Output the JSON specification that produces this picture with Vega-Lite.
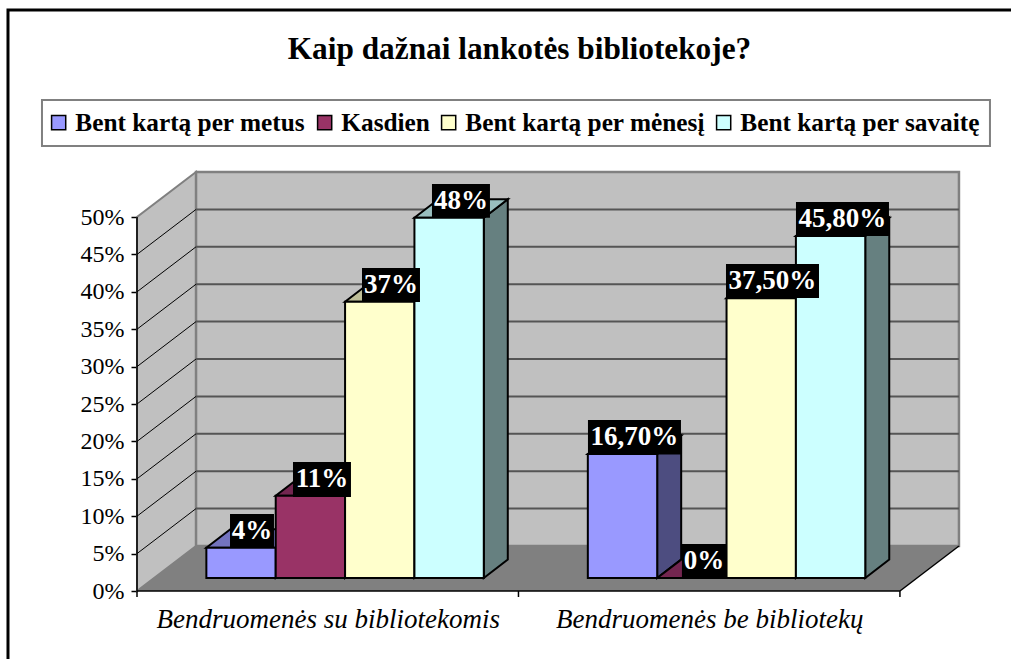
{
"$schema":"https://vega.github.io/schema/vega-lite/v6.json",
"width":823,"height":419,
"autosize":{"type":"none"},
"padding":{"left":137,"top":172,"right":51,"bottom":68},
"background":"white",
"title":{"text":"Kaip dažnai lankotės bibliotekoje?","font":"Liberation Serif","fontWeight":"bold","fontSize":31.3,"color":"black","anchor":"middle","frame":"group","dx":-29,"offset":-57},
"config":{"view":{"stroke":null},"axis":{"labelFont":"Liberation Serif","labelColor":"black"}},
"datasets":{
"bars":[
{"category":"Bendruomenės su bibliotekomis","series":"Bent kartą per metus","value":4,"x":1,"xe":2,"base":1.74,"top":5.79},
{"category":"Bendruomenės su bibliotekomis","series":"Kasdien","value":11,"x":2,"xe":3,"base":1.74,"top":12.74},
{"category":"Bendruomenės su bibliotekomis","series":"Bent kartą per mėnesį","value":37,"x":3,"xe":4,"base":1.74,"top":38.68},
{"category":"Bendruomenės su bibliotekomis","series":"Bent kartą per savaitę","value":48,"x":4,"xe":5,"base":1.74,"top":49.91},
{"category":"Bendruomenės be bibliotekų","series":"Bent kartą per metus","value":16.7,"x":6.5,"xe":7.5,"base":1.74,"top":18.32},
{"category":"Bendruomenės be bibliotekų","series":"Kasdien","value":0,"x":7.5,"xe":8.5,"base":1.74,"top":1.74},
{"category":"Bendruomenės be bibliotekų","series":"Bent kartą per mėnesį","value":37.5,"x":8.5,"xe":9.5,"base":1.74,"top":39.13},
{"category":"Bendruomenės be bibliotekų","series":"Bent kartą per savaitę","value":45.8,"x":9.5,"xe":10.5,"base":1.74,"top":47.46}
],
"sides":[
{"face":"a1","series":"Bent kartą per metus","x":2,"y":1.74,"ye":5.79},{"face":"a1","series":"Bent kartą per metus","x":2.346,"y":4.2,"ye":8.25},
{"face":"a2","series":"Kasdien","x":3,"y":1.74,"ye":12.74},{"face":"a2","series":"Kasdien","x":3.346,"y":4.2,"ye":15.2},
{"face":"a3","series":"Bent kartą per mėnesį","x":4,"y":1.74,"ye":38.68},{"face":"a3","series":"Bent kartą per mėnesį","x":4.346,"y":4.2,"ye":41.14},
{"face":"a4","series":"Bent kartą per savaitę","x":5,"y":1.74,"ye":49.91},{"face":"a4","series":"Bent kartą per savaitę","x":5.346,"y":4.2,"ye":52.37},
{"face":"b1","series":"Bent kartą per metus","x":7.5,"y":1.74,"ye":18.32},{"face":"b1","series":"Bent kartą per metus","x":7.846,"y":4.2,"ye":20.78},
{"face":"b3","series":"Bent kartą per mėnesį","x":9.5,"y":1.74,"ye":39.13},{"face":"b3","series":"Bent kartą per mėnesį","x":9.846,"y":4.2,"ye":41.59},
{"face":"b4","series":"Bent kartą per savaitę","x":10.5,"y":1.74,"ye":47.46},{"face":"b4","series":"Bent kartą per savaitę","x":10.846,"y":4.2,"ye":49.92}
],
"tops":[
{"face":"a1","series":"Bent kartą per metus","y":5.79,"x":1,"xe":2},{"face":"a1","series":"Bent kartą per metus","y":8.25,"x":1.346,"xe":2.346},
{"face":"a2","series":"Kasdien","y":12.74,"x":2,"xe":3},{"face":"a2","series":"Kasdien","y":15.2,"x":2.346,"xe":3.346},
{"face":"a3","series":"Bent kartą per mėnesį","y":38.68,"x":3,"xe":4},{"face":"a3","series":"Bent kartą per mėnesį","y":41.14,"x":3.346,"xe":4.346},
{"face":"a4","series":"Bent kartą per savaitę","y":49.91,"x":4,"xe":5},{"face":"a4","series":"Bent kartą per savaitę","y":52.37,"x":4.346,"xe":5.346},
{"face":"b1","series":"Bent kartą per metus","y":18.32,"x":6.5,"xe":7.5},{"face":"b1","series":"Bent kartą per metus","y":20.78,"x":6.846,"xe":7.846},
{"face":"b2","series":"Kasdien","y":1.74,"x":7.5,"xe":8.5},{"face":"b2","series":"Kasdien","y":4.2,"x":7.846,"xe":8.846},
{"face":"b3","series":"Bent kartą per mėnesį","y":39.13,"x":8.5,"xe":9.5},{"face":"b3","series":"Bent kartą per mėnesį","y":41.59,"x":8.846,"xe":9.846},
{"face":"b4","series":"Bent kartą per savaitę","y":47.46,"x":9.5,"xe":10.5},{"face":"b4","series":"Bent kartą per savaitę","y":49.92,"x":9.846,"xe":10.846}
],
"labels":[
{"label":"4%","x":1.341,"xe":1.975,"y":5.75,"ye":10.29,"xm":1.658,"ym":8.02},
{"label":"11%","x":2.249,"xe":3.085,"y":12.57,"ye":17.25,"xm":2.667,"ym":14.91},
{"label":"37%","x":3.244,"xe":4.08,"y":38.64,"ye":43.18,"xm":3.662,"ym":40.91},
{"label":"48%","x":4.253,"xe":5.089,"y":49.91,"ye":54.41,"xm":4.671,"ym":52.16},
{"label":"16,70%","x":6.502,"xe":7.843,"y":18.25,"ye":22.86,"xm":7.172,"ym":20.55},
{"label":"0%","x":7.857,"xe":8.492,"y":1.74,"ye":6.28,"xm":8.175,"ym":4.01},
{"label":"37,50%","x":8.492,"xe":9.833,"y":39.17,"ye":43.72,"xm":9.162,"ym":41.44},
{"label":"45,80%","x":9.501,"xe":10.842,"y":47.46,"ye":52.0,"xm":10.171,"ym":49.73}
],
"grid":[{"p":11.016,"a":0.851,"b":11.851},{"p":16.016,"a":0.851,"b":11.851},{"p":21.016,"a":0.851,"b":11.851},{"p":26.016,"a":0.851,"b":11.851},{"p":31.016,"a":0.851,"b":11.851},{"p":36.016,"a":0.851,"b":11.851},{"p":41.016,"a":0.851,"b":11.851},{"p":46.016,"a":0.851,"b":11.851},{"p":51.016,"a":0.851,"b":11.851}],
"diag":[
{"id":"d5","x":0,"y":5},{"id":"d5","x":0.851,"y":11.016},
{"id":"d10","x":0,"y":10},{"id":"d10","x":0.851,"y":16.016},
{"id":"d15","x":0,"y":15},{"id":"d15","x":0.851,"y":21.016},
{"id":"d20","x":0,"y":20},{"id":"d20","x":0.851,"y":26.016},
{"id":"d25","x":0,"y":25},{"id":"d25","x":0.851,"y":31.016},
{"id":"d30","x":0,"y":30},{"id":"d30","x":0.851,"y":36.016},
{"id":"d35","x":0,"y":35},{"id":"d35","x":0.851,"y":41.016},
{"id":"d40","x":0,"y":40},{"id":"d40","x":0.851,"y":46.016},
{"id":"d45","x":0,"y":45},{"id":"d45","x":0.851,"y":51.016}
]
},
"layer":[
{"data":{"values":[{"x":-1.86,"xe":13,"y":-11,"ye":77.67}]},
 "mark":{"type":"rect","fill":null,"stroke":"black","strokeWidth":3,"clip":false},
 "encoding":{
  "x":{"field":"x","type":"quantitative","scale":{"domain":[0,11.866],"nice":false,"zero":false},
    "axis":{"values":[2.75,8.25],"title":null,"domain":false,"grid":false,"ticks":false,"labelFontSize":27,"labelFontStyle":"italic","labelPadding":15,"labelLimit":600,"labelExpr":"datum.value<5?'Bendruomenės su bibliotekomis':'Bendruomenės be bibliotekų'"}},
  "x2":{"field":"xe"},
  "y":{"field":"y","type":"quantitative","scale":{"domain":[0,56.02],"nice":false,"zero":false},
    "axis":{"values":[0,5,10,15,20,25,30,35,40,45,50],"title":null,"domain":false,"grid":false,"tickSize":6,"tickColor":"black","tickWidth":1.5,"labelFontSize":24,"labelPadding":7,"labelExpr":"datum.value+'%'"}},
  "y2":{"field":"ye"}}},
{"data":{"values":[{"x":-1.37,"xe":12.298,"y":59.49,"ye":65.64}]},
 "mark":{"type":"rect","fill":"white","stroke":"#808080","strokeWidth":2,"clip":false},
 "encoding":{"x":{"field":"x","type":"quantitative","axis":null},"x2":{"field":"xe"},"y":{"field":"y","type":"quantitative","axis":null},"y2":{"field":"ye"}}},
{"data":{"values":[{"a":0,"b":0,"c":50},{"a":0.851,"b":6.016,"c":56.02}]},
 "mark":{"type":"area","fill":"#c0c0c0","stroke":"#808080","strokeWidth":2,"orient":"vertical"},
 "encoding":{"x":{"field":"a","type":"quantitative","axis":null},"y":{"field":"b","type":"quantitative","axis":null},"y2":{"field":"c"}}},
{"data":{"values":[{"x":0.851,"xe":11.851,"y":6.016,"ye":56.02}]},
 "mark":{"type":"rect","fill":"#c0c0c0","stroke":"#808080","strokeWidth":2.5},
 "encoding":{"x":{"field":"x","type":"quantitative","axis":null},"x2":{"field":"xe"},"y":{"field":"y","type":"quantitative","axis":null},"y2":{"field":"ye"}}},
{"data":{"name":"diag"},
 "mark":{"type":"line","stroke":"black","strokeWidth":1},
 "encoding":{"x":{"field":"x","type":"quantitative","axis":null},"y":{"field":"y","type":"quantitative","axis":null},"detail":{"field":"id"}}},
{"data":{"name":"grid"},
 "mark":{"type":"rule","stroke":"#555555","strokeWidth":2},
 "encoding":{"x":{"field":"a","type":"quantitative","axis":null},"x2":{"field":"b"},"y":{"field":"p","type":"quantitative","axis":null}}},
{"data":{"values":[{"a":0,"b":11,"y":0},{"a":0.851,"b":11.851,"y":6.016}]},
 "mark":{"type":"area","fill":"#808080","orient":"horizontal"},
 "encoding":{"y":{"field":"y","type":"quantitative","axis":null},"x":{"field":"a","type":"quantitative","axis":null},"x2":{"field":"b"}}},
{"data":{"values":[{"a":0,"b":11,"c":0,"d":0},{"a":0,"b":0,"c":0,"d":50},{"a":5.5,"b":5.5,"c":-0.8,"d":0},{"a":0,"b":0,"c":-0.8,"d":0},{"a":11,"b":11,"c":-0.8,"d":0}]},
 "mark":{"type":"rule","stroke":"black","strokeWidth":1.5,"clip":false},
 "encoding":{"x":{"field":"a","type":"quantitative","axis":null},"x2":{"field":"b"},"y":{"field":"c","type":"quantitative","axis":null},"y2":{"field":"d"}}},
{"data":{"values":[{"a":11,"b":0},{"a":11.851,"b":6.016}]},
 "mark":{"type":"line","stroke":"black","strokeWidth":1.5},
 "encoding":{"x":{"field":"a","type":"quantitative","axis":null},"y":{"field":"b","type":"quantitative","axis":null}}},
{"data":{"name":"sides"},
 "mark":{"type":"area","stroke":"black","strokeWidth":2,"orient":"vertical"},
 "encoding":{"x":{"field":"x","type":"quantitative","axis":null},"y":{"field":"y","type":"quantitative","axis":null},"y2":{"field":"ye"},"detail":{"field":"face"},
  "fill":{"field":"series","type":"nominal","legend":null,"scale":{"domain":["Bent kartą per metus","Kasdien","Bent kartą per mėnesį","Bent kartą per savaitę"],"range":["#4D4D80","#4D1A33","#808066","#668080"]}}}},
{"data":{"name":"tops"},
 "mark":{"type":"area","stroke":"black","strokeWidth":2,"orient":"horizontal"},
 "encoding":{"y":{"field":"y","type":"quantitative","axis":null},"x":{"field":"x","type":"quantitative","axis":null},"x2":{"field":"xe"},"detail":{"field":"face"},
  "fill":{"field":"series","type":"nominal","legend":null,"scale":{"domain":["Bent kartą per metus","Kasdien","Bent kartą per mėnesį","Bent kartą per savaitę"],"range":["#7373BF","#732650","#BFBF99","#99BFBF"]}}}},
{"data":{"name":"bars"},
 "mark":{"type":"rect","stroke":"black","strokeWidth":2},
 "encoding":{"x":{"field":"x","type":"quantitative","axis":null},"x2":{"field":"xe"},"y":{"field":"base","type":"quantitative","axis":null},"y2":{"field":"top"},
  "fill":{"field":"series","type":"nominal","scale":{"domain":["Bent kartą per metus","Kasdien","Bent kartą per mėnesį","Bent kartą per savaitę"],"range":["#9999FF","#993366","#FFFFCC","#CCFFFF"]},
   "legend":{"title":null,"orient":"none","legendX":-91,"legendY":-62,"direction":"horizontal","columns":4,"columnPadding":6,"symbolType":"square","symbolSize":200,"symbolStrokeColor":"black","symbolStrokeWidth":1.5,"labelFont":"Liberation Serif","labelFontWeight":"bold","labelFontSize":25.3,"labelColor":"black","labelLimit":400,"labelOffset":4,"padding":0}}}},
{"data":{"name":"labels"},
 "mark":{"type":"rect","fill":"black"},
 "encoding":{"x":{"field":"x","type":"quantitative","axis":null},"x2":{"field":"xe"},"y":{"field":"y","type":"quantitative","axis":null},"y2":{"field":"ye"}}},
{"data":{"name":"labels"},
 "mark":{"type":"text","font":"Liberation Serif","fontWeight":"bold","fontSize":27,"fill":"white","align":"center","baseline":"middle","dy":0},
 "encoding":{"x":{"field":"xm","type":"quantitative","axis":null},"y":{"field":"ym","type":"quantitative","axis":null},"text":{"field":"label"}}}
],
"resolve":{"scale":{"fill":"independent"},"axis":{"x":"independent","y":"independent"}}
}
